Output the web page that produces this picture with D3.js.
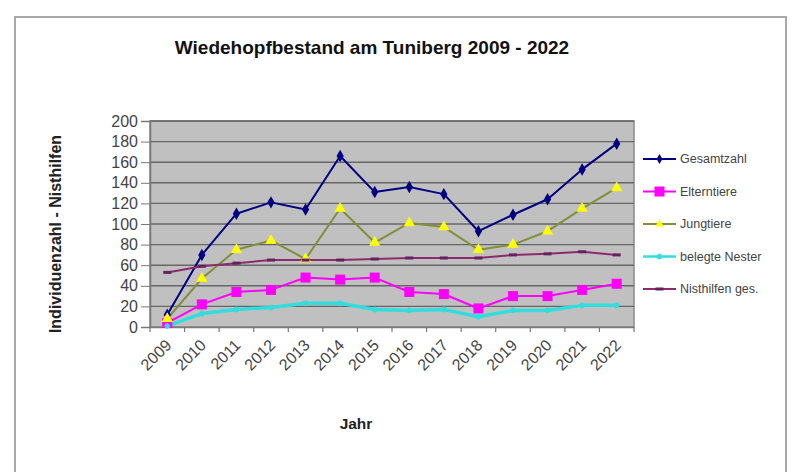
<!DOCTYPE html>
<html><head><meta charset="utf-8">
<script src="https://cdn.jsdelivr.net/npm/d3@7"></script>
<style>body{margin:0;background:#fff}svg{display:block;font-family:"Liberation Sans",Arial,sans-serif}</style>
</head><body><svg id="c" width="792" height="472"></svg>
<script>
const years = ["2009","2010","2011","2012","2013","2014","2015","2016","2017","2018","2019","2020","2021","2022"];
const gesamtzahl = [12,70,110,121,114,166,131,136,129,93,109,124,153,178];
const elterntiere = [4,22,34,36,48,46,48,34,32,18,30,30,36,42];
const jungtiere = [8,47,75,84,66,115,82,101,97,75,80,93,115,135];
const belegteNester = [1,13,17,19,23,23,17,16,17,10,16,16,21,21];
const nisthilfen = [53,59,62,65,65,65,66,67,67,67,70,71,73,70];
const yTicks = [0,20,40,60,80,100,120,140,160,180,200];

const series = [
  {name:"Gesamtzahl", values:gesamtzahl, line:"#000080", fill:"#000080", marker:"diamond", w:2},
  {name:"Elterntiere", values:elterntiere, line:"#ff00ff", fill:"#ff00ff", marker:"square", w:2},
  {name:"Jungtiere", values:jungtiere, line:"#7f8f3a", fill:"#ffff00", marker:"triangle", w:2},
  {name:"belegte Nester", values:belegteNester, line:"#33dddd", fill:"#33dddd", marker:"star", w:3.5},
  {name:"Nisthilfen ges.", values:nisthilfen, line:"#8b2a6e", fill:"#66205a", marker:"dash", w:2}
];

const svg = d3.select("#c");
const L=150,R=634,T=121,B=327;
const x = d3.scaleBand().domain(years).range([L,R]);
const y = d3.scaleLinear().domain([0,200]).range([B,T]);

// outer border
svg.append("rect").attr("x",15).attr("y",17).attr("width",771).attr("height",480)
  .attr("fill","#fff").attr("stroke","#a8a8a8").attr("stroke-width",2);

// plot area
svg.append("rect").attr("x",L).attr("y",T).attr("width",R-L).attr("height",B-T)
  .attr("fill","#c0c0c0").attr("stroke","#8a8a8a").attr("stroke-width",1.5);

// gridlines
svg.append("g").selectAll("line").data(yTicks.slice(1)).join("line")
  .attr("x1",L).attr("x2",R).attr("y1",d=>y(d)).attr("y2",d=>y(d))
  .attr("stroke","#666").attr("stroke-width",1.4);

// y axis
const ya = svg.append("g").attr("transform",`translate(${L},0)`)
  .call(d3.axisLeft(y).tickValues(yTicks).tickSize(9).tickPadding(3));
ya.select(".domain").attr("stroke","#777").attr("stroke-width",1.5);
ya.selectAll(".tick line").attr("stroke","#777");
ya.selectAll("text").attr("font-size",16).attr("fill","#444").attr("font-family","Liberation Sans, Arial");

// x axis
const xa = svg.append("g").attr("transform",`translate(0,${B})`)
  .call(d3.axisBottom(x).tickSize(0).tickPadding(6));
xa.select(".domain").attr("stroke","#777").attr("stroke-width",1.5);
xa.selectAll("text").attr("font-size",16).attr("fill","#444").attr("font-family","Liberation Sans, Arial")
  .attr("text-anchor","end").attr("dy","0.35em")
  .attr("transform","translate(-3,11) rotate(-45)");
// band boundary ticks
svg.append("g").selectAll("line").data(years.concat(["end"])).join("line")
  .attr("x1",(d,i)=>i<years.length?x(d):R).attr("x2",(d,i)=>i<years.length?x(d):R)
  .attr("y1",B).attr("y2",B+5).attr("stroke","#777").attr("stroke-width",1.2);

// lines
const cx = d=>x(d)+x.bandwidth()/2;
series.forEach(s=>{
  const line = d3.line().x((v,i)=>cx(years[i])).y(v=>y(v));
  svg.append("path").datum(s.values).attr("d",line).attr("fill","none")
    .attr("stroke",s.line).attr("stroke-width",s.w).attr("stroke-linejoin","round");
});

function marker(g,type,fill,size){
  if(type==="diamond") g.append("path").attr("d",d3.symbol(d3.symbolDiamond,size||45)()).attr("fill",fill);
  else if(type==="square") g.append("rect").attr("x",-5).attr("y",-5).attr("width",10).attr("height",10).attr("fill",fill);
  else if(type==="triangle") g.append("path").attr("d",d3.symbol(d3.symbolTriangle,size||55)()).attr("fill",fill);
  else if(type==="star") g.append("path").attr("d","M-3,0H3M0,-3V3M-2,-2L2,2M-2,2L2,-2").attr("stroke",fill).attr("stroke-width",1.5);
  else if(type==="dash") g.append("rect").attr("x",-4).attr("y",-1.5).attr("width",8).attr("height",3).attr("fill",fill);
}
series.forEach(s=>{
  s.values.forEach((v,i)=>{
    const g = svg.append("g").attr("transform",`translate(${cx(years[i])},${y(v)})`);
    marker(g,s.marker,s.fill);
  });
});

// title
svg.append("text").attr("x",372).attr("y",54).attr("text-anchor","middle")
  .attr("font-size",19).attr("font-weight","bold").attr("fill","#111").text("Wiedehopfbestand am Tuniberg 2009 - 2022");
// axis titles
svg.append("text").attr("transform","translate(61,234) rotate(-90)").attr("text-anchor","middle")
  .attr("font-size",16).attr("font-weight","bold").attr("fill","#222").text("Individuenzahl - Nisthilfen");
svg.append("text").attr("x",356).attr("y",429).attr("text-anchor","middle")
  .attr("font-size",15.5).attr("font-weight","bold").attr("fill","#222").text("Jahr");

// legend
const lg = svg.append("g");
series.forEach((s,i)=>{
  const yy = 159 + i*32.5;
  lg.append("line").attr("x1",643).attr("x2",676).attr("y1",yy).attr("y2",yy)
    .attr("stroke",s.line).attr("stroke-width",Math.min(s.w,2.5));
  const g = lg.append("g").attr("transform",`translate(659.5,${yy})`);
  marker(g,s.marker,s.fill,30);
  lg.append("text").attr("x",680).attr("y",yy).attr("dy","0.35em").attr("font-size",12.5)
    .attr("fill","#444").text(s.name);
});
</script></body></html>
